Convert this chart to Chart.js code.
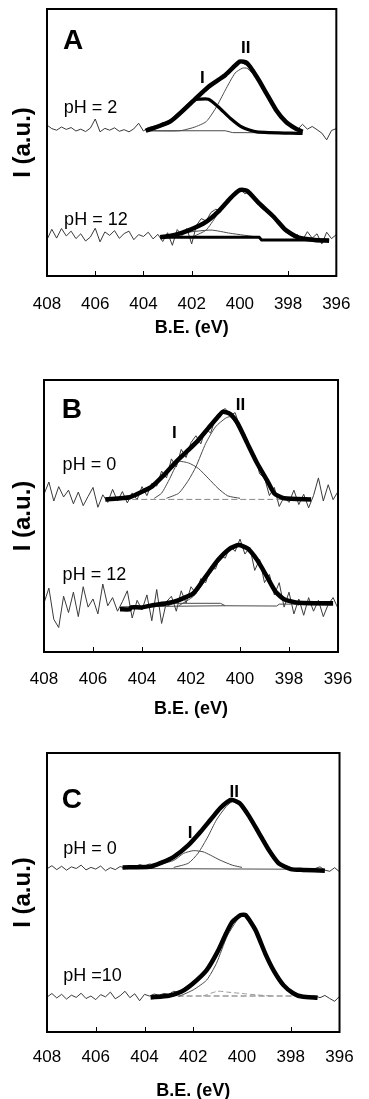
<!DOCTYPE html>
<html>
<head>
<meta charset="utf-8">
<script src="https://cdn.jsdelivr.net/npm/chart.js@4.4.0/dist/chart.umd.min.js"></script>
<style>
  html, body { margin: 0; padding: 0; background: #fff; overflow: hidden; }
  .panel { position: absolute; left: 0; width: 369px; }
  canvas { display: block; }
</style>
</head>
<body>
<div class="panel" style="top:0"><canvas id="chartA" width="369" height="360"></canvas></div>
<div class="panel" style="top:360px"><canvas id="chartB" width="369" height="370"></canvas></div>
<div class="panel" style="top:730px"><canvas id="chartC" width="369" height="380"></canvas></div>
<script>
// N 1s spectra, binding energy axis (eV), intensity in arbitrary units (0-100 per panel)
const BE_GRID = [408.0, 407.8, 407.6, 407.4, 407.2, 407.0, 406.8, 406.6, 406.4, 406.2,
  406.0, 405.8, 405.6, 405.4, 405.2, 405.0, 404.8, 404.6, 404.4, 404.2,
  404.0, 403.8, 403.6, 403.4, 403.2, 403.0, 402.8, 402.6, 402.4, 402.2,
  402.0, 401.8, 401.6, 401.4, 401.2, 401.0, 400.8, 400.6, 400.4, 400.2,
  400.0, 399.8, 399.6, 399.4, 399.2, 399.0, 398.8, 398.6, 398.4, 398.2,
  398.0, 397.8, 397.6, 397.4, 397.2, 397.0, 396.8, 396.6, 396.4, 396.2, 396.0];

// ---- Panel A ----
const A_PH2_RAW = [56.5, 55.2, 54.6, 55.8, 54.9, 55.6, 54.3, 55.0, 54.1, 55.4,
  58.8, 54.0, 55.3, 54.6, 55.5, 54.2, 54.8, 54.0, 55.1, 57.2,
  54.3, 55.6, 56.0, 56.2, 57.5, 57.0, 58.8, 59.5, 62.0, 62.8,
  65.5, 66.0, 68.5, 69.2, 71.0, 72.6, 73.5, 75.0, 77.2, 78.0,
  80.5, 79.3, 78.4, 75.0, 73.6, 70.5, 67.2, 64.0, 61.5, 59.5,
  56.5, 56.0, 55.0, 56.8, 55.0, 56.0, 54.8, 53.5, 51.0, 54.5, 55.2];
const A_PH2_FIT = [[403.9, 54.4], [402.9, 57.8], [401.9, 65.9], [401.3, 70.9], [400.6, 75.3], [400.0, 80.3],
  [399.7, 79.7], [399.3, 74.6], [398.9, 68.4], [398.5, 62.2], [398.1, 57.8], [397.7, 55.3], [397.4, 54.0]];
const A_PH2_PEAK1 = [[403.9, 54.4], [402.9, 57.8], [401.9, 65.9], [401.7, 66.2], [401.3, 66.2], [400.9, 63.4],
  [400.4, 59.1], [399.9, 55.7], [399.3, 54.0], [397.4, 53.4]];
const A_PH2_PEAK2 = [[403.9, 54.4], [402.5, 54.4], [401.9, 55.7], [401.4, 57.8], [401.0, 62.9], [400.6, 69.7],
  [400.2, 76.0], [399.9, 77.8], [399.7, 77.8], [399.3, 74.0], [398.9, 67.8], [398.5, 61.8], [398.1, 57.5],
  [397.7, 55.0], [397.4, 54.0]];
const A_PH2_BASE = [[403.9, 54.4], [400.6, 54.4], [400.3, 53.7], [397.4, 53.6]];

const A_PH12_RAW = [13.6, 17.5, 14.2, 17.8, 15.0, 16.8, 14.0, 15.8, 13.1, 14.6,
  17.9, 12.8, 16.5, 15.2, 17.0, 14.1, 15.9, 16.8, 13.6, 15.5,
  14.8, 16.4, 13.9, 15.6, 12.9, 16.2, 11.5, 17.4, 15.2, 17.8,
  12.0, 19.0, 21.5, 20.6, 23.8, 25.0, 24.5, 27.5, 28.6, 30.5,
  33.0, 30.8, 31.5, 28.5, 28.0, 24.6, 24.0, 21.8, 20.6, 17.5,
  16.2, 14.8, 15.5, 13.5, 16.6, 14.2, 15.8, 12.0, 16.4, 14.0, 15.5];
const A_PH12_FIT = [[403.3, 14.5], [402.7, 15.4], [402.1, 17.2], [401.4, 20.3], [400.9, 24.1], [400.4, 29.1],
  [400.0, 32.2], [399.7, 31.9], [399.2, 27.2], [398.6, 22.2], [398.1, 17.2], [397.6, 14.5], [396.9, 13.5], [396.3, 13.2]];
const A_PH12_PEAK1 = [[403.3, 14.5], [402.5, 16.0], [401.2, 17.2], [400.4, 16.0], [399.2, 14.5]];
const A_PH12_PEAK2 = [[401.9, 14.9], [401.4, 17.2], [401.0, 22.2], [400.6, 27.8], [400.0, 31.5], [399.7, 31.5],
  [399.2, 26.8], [398.6, 21.5], [398.1, 16.5], [397.6, 14.0], [396.9, 13.5]];
const A_PH12_BASE = [[403.3, 14.5], [399.2, 14.5], [399.1, 13.5], [396.3, 13.5]];

// ---- Panel B ----
const B_PH0_RAW = [58.0, 62.5, 55.5, 60.8, 57.0, 59.5, 54.5, 58.8, 53.8, 57.2,
  60.5, 53.2, 57.8, 55.0, 59.8, 55.5, 59.0, 54.8, 58.5, 56.0,
  60.8, 57.5, 62.0, 61.0, 66.5, 64.0, 71.0, 68.0, 74.5, 71.5,
  77.0, 79.5, 76.5, 82.0, 80.5, 86.0, 88.5, 89.5, 87.0, 88.0,
  82.5, 80.0, 74.0, 72.5, 65.5, 64.0, 57.5, 60.5, 53.5, 57.0,
  55.0, 59.5, 54.2, 58.0, 53.0, 57.5, 64.0, 55.5, 61.5, 56.0, 59.0];
const B_PH0_FIT = [[405.5, 56.1], [404.5, 56.9], [404.0, 58.9], [403.6, 60.8], [403.1, 65.1], [402.6, 70.0],
  [402.1, 74.3], [401.7, 77.9], [401.3, 82.2], [400.9, 86.5], [400.7, 88.3], [400.4, 87.5], [400.1, 84.1],
  [399.7, 76.7], [399.3, 69.4], [398.9, 63.2], [398.6, 58.3], [398.2, 56.5], [397.1, 56.1]];
const B_PH0_PEAK1 = [[403.5, 56.5], [403.2, 58.4], [402.9, 63.2], [402.5, 69.9], [402.1, 69.5], [401.7, 67.5],
  [401.3, 63.9], [400.9, 60.2], [400.5, 57.4], [400.0, 56.5]];
const B_PH0_PEAK2 = [[403.0, 56.5], [402.5, 58.4], [402.1, 63.2], [401.8, 68.1], [401.4, 76.7], [401.0, 82.8],
  [400.6, 85.9], [400.4, 86.5], [400.1, 83.0], [399.7, 75.8], [399.3, 68.6], [398.9, 62.6], [398.6, 58.0],
  [398.2, 56.4], [397.8, 56.1]];
const B_PH0_BASE = [[405.5, 56.1], [397.1, 56.1]];

const B_PH12_RAW = [18.0, 23.5, 12.0, 9.0, 20.5, 14.5, 22.0, 13.0, 24.0, 16.5,
  19.5, 14.0, 25.0, 17.0, 20.0, 15.0, 18.5, 22.5, 12.5, 19.0,
  15.5, 21.0, 11.5, 23.0, 10.5, 18.5, 20.5, 15.0, 22.5, 18.0,
  24.0, 21.5, 27.0, 25.5, 31.0, 30.5, 35.5, 34.5, 39.0, 37.0,
  41.5, 36.0, 38.5, 30.0, 34.0, 25.5, 28.5, 21.0, 25.5, 16.5,
  22.0, 14.0, 19.5, 13.5, 20.0, 15.0, 19.0, 13.0, 17.5, 20.0, 16.0];
const B_PH12_FIT = [[404.9, 15.7], [404.5, 15.7], [404.45, 16.4], [404.0, 16.4], [403.5, 17.3], [403.0, 17.9],
  [402.5, 19.1], [401.9, 21.6], [401.4, 27.7], [400.9, 33.8], [400.4, 38.1], [400.05, 39.3], [399.7, 38.1],
  [399.3, 33.8], [398.9, 27.7], [398.55, 22.2], [398.2, 19.4], [397.6, 18.1], [396.2, 17.9]];
const B_PH12_PEAK1 = [[403.0, 16.8], [402.7, 17.9], [400.8, 17.9], [400.6, 17.0]];
const B_PH12_PEAK2 = [[402.5, 17.0], [401.9, 20.5], [401.4, 26.5], [400.9, 32.8], [400.4, 37.5], [400.05, 38.8],
  [399.7, 37.6], [399.3, 33.2], [398.9, 27.0], [398.55, 21.5], [398.2, 18.8], [397.6, 17.2]];
const B_PH12_BASE = [[404.9, 16.6], [403.0, 16.8], [400.6, 17.0], [398.5, 16.9], [398.4, 17.6], [397.9, 17.6], [396.2, 17.2]];

// ---- Panel C ----
const C_PH0_RAW = [58.5, 59.6, 58.2, 59.4, 58.0, 59.2, 58.6, 59.8, 58.1, 59.0,
  58.4, 59.5, 57.8, 58.9, 58.2, 59.3, 58.8, 59.6, 59.2, 60.0,
  59.5, 60.2, 60.0, 61.0, 61.2, 62.5, 63.0, 64.5, 65.2, 67.5,
  68.5, 70.5, 72.8, 74.5, 76.8, 79.0, 81.0, 82.3, 83.5, 82.8,
  81.5, 78.5, 75.8, 72.5, 69.0, 66.0, 63.2, 61.0, 59.5, 58.8,
  58.2, 58.6, 57.8, 58.4, 58.0, 58.6, 59.2, 58.0, 57.6, 58.9, 57.4];
const C_PH0_FIT = [[404.9, 59.0], [403.8, 59.2], [403.3, 60.7], [402.8, 62.8], [402.2, 67.0], [401.7, 71.8],
  [401.3, 76.0], [400.9, 80.2], [400.6, 82.5], [400.4, 83.2], [400.1, 82.0], [399.7, 77.2], [399.3, 71.2],
  [398.9, 65.2], [398.5, 60.5], [398.0, 58.4], [397.5, 58.1], [396.6, 57.8]];
const C_PH0_PEAK1 = [[403.8, 59.0], [402.8, 61.5], [402.4, 64.0], [402.0, 65.0], [401.6, 64.6], [401.3, 63.4],
  [400.9, 61.6], [400.4, 59.8], [400.0, 59.0]];
const C_PH0_PEAK2 = [[402.8, 59.0], [402.2, 60.5], [401.8, 64.1], [401.4, 70.0], [401.05, 76.0], [400.65, 80.8],
  [400.4, 82.5], [400.1, 81.3], [399.7, 76.5], [399.3, 70.5], [398.9, 64.6], [398.5, 60.2], [398.0, 58.4], [397.5, 58.0]];
const C_PH0_BASE = [[404.9, 58.6], [396.6, 58.3]];

const C_PH10_RAW = [12.5, 13.8, 12.2, 13.5, 11.8, 13.2, 12.4, 13.9, 12.0, 12.9,
  11.6, 13.4, 12.6, 14.3, 11.9, 13.0, 14.6, 12.3, 13.7, 11.2,
  13.5, 12.9, 13.6, 13.2, 13.8, 13.5, 14.6, 14.2, 15.6, 16.8,
  17.9, 19.5, 21.2, 23.5, 26.0, 29.0, 32.0, 35.2, 38.5, 40.8,
  42.2, 41.5, 38.8, 35.5, 31.5, 27.2, 23.5, 20.2, 17.6, 15.5,
  14.0, 13.2, 12.8, 13.0, 12.5, 12.9, 12.3, 13.1, 12.0, 11.0, 12.8];
const C_PH10_FIT = [[403.75, 12.4], [403.0, 13.0], [402.5, 14.4], [402.0, 17.5], [401.45, 22.2], [401.0, 28.8],
  [400.65, 35.4], [400.4, 39.5], [400.05, 41.9], [399.85, 41.9], [399.45, 36.6], [399.05, 28.2], [398.7, 22.0],
  [398.3, 16.8], [397.9, 13.9], [397.55, 12.7], [396.9, 12.3]];
const C_PH10_PEAK1 = [[401.6, 12.9], [401.0, 14.6], [400.6, 14.3], [400.0, 13.8], [399.4, 13.3], [398.8, 12.9]];
const C_PH10_PEAK2 = [[402.6, 12.7], [402.0, 15.1], [401.45, 18.6], [401.05, 24.6], [400.6, 34.5], [400.1, 41.3],
  [399.9, 41.5], [399.45, 36.3], [399.05, 28.0], [398.7, 21.8], [398.3, 16.6], [397.9, 13.7]];
const C_PH10_BASE = [[403.75, 12.9], [396.9, 12.9]];

// x tick labels and the small inner tick marks seen on each frame
const X_TICK_STEP = 2;
const A_TICK_MARKS = [406, 404, 402, 398];
const B_TICK_MARKS = [406, 404, 400, 398];
const C_TICK_MARKS = [406, 404, 402, 398];

// annotations: [text, BE, intensity]
const A_LABELS = [['A', 406.92, 84.9], ['pH = 2', 407.31, 61.0], ['pH = 12', 407.29, 19.1], ['I', 401.56, 72.3], ['II', 399.76, 83.6]];
const B_LABELS = [['B', 406.86, 85.9], ['pH = 0', 407.24, 66.9], ['pH = 12', 407.24, 26.5], ['I', 402.68, 78.6], ['II', 399.98, 89.0]];
const C_LABELS = [['C', 406.98, 80.2], ['pH = 0', 407.33, 63.8], ['pH =10', 407.33, 18.4], ['I', 402.13, 69.4], ['II', 400.32, 84.3]];

const FONT = '"Liberation Sans", Arial, sans-serif';
Chart.defaults.font.family = FONT;
Chart.defaults.color = '#000';

const toXY = pairs => pairs.map(p => ({ x: p[0], y: p[1] }));
const rawXY = vals => BE_GRID.map((be, i) => ({ x: be, y: vals[i] }));

function line(data, width, color, order, tension, dash) {
    return {
        data: data,
        borderColor: color,
        borderWidth: width,
        borderDash: dash || [],
        pointRadius: 0,
        tension: tension,
        fill: false,
        order: order
    };
}

// frame box, inward tick marks and text annotations
function panelPlugin(tickMarks, labels) {
    return {
        id: 'panelDecor',
        afterDraw(chart) {
            const { ctx, chartArea: a, scales: { x, y } } = chart;
            ctx.save();
            ctx.strokeStyle = '#000';
            ctx.lineWidth = 2;
            ctx.strokeRect(a.left, a.top, a.right - a.left, a.bottom - a.top);
            ctx.lineWidth = 1;
            tickMarks.forEach(v => {
                const px = Math.round(x.getPixelForValue(v)) + 0.5;
                ctx.beginPath();
                ctx.moveTo(px, a.bottom);
                ctx.lineTo(px, a.bottom - 5);
                ctx.stroke();
            });
            ctx.fillStyle = '#000';
            ctx.textBaseline = 'alphabetic';
            labels.forEach(([text, be, val]) => {
                if (text.startsWith('pH')) {
                    ctx.font = '18px ' + FONT;
                    ctx.textAlign = 'left';
                } else if (text.startsWith('I')) {
                    ctx.font = 'bold 17px ' + FONT;
                    ctx.textAlign = 'center';
                } else {
                    ctx.font = 'bold 28px ' + FONT;
                    ctx.textAlign = 'center';
                }
                ctx.fillText(text, x.getPixelForValue(be), y.getPixelForValue(val));
            });
            ctx.restore();
        }
    };
}

function makePanel(id, datasets, tickMarks, labels, lay) {
    return new Chart(document.getElementById(id), {
        type: 'line',
        data: { datasets: datasets },
        options: {
            responsive: false,
            animation: false,
            events: [],
            layout: { padding: { top: lay.top, right: lay.right, bottom: lay.bottom, left: 4 } },
            plugins: { legend: { display: false }, tooltip: { enabled: false } },
            scales: {
                x: {
                    type: 'linear', min: 396, max: 408, reverse: true,
                    grid: { display: false, drawTicks: false },
                    border: { display: false },
                    ticks: {
                        stepSize: X_TICK_STEP, padding: lay.tickPad, color: '#000',
                        font: { size: 17 }, maxRotation: 0, autoSkip: false,
                        callback: v => v
                    },
                    title: {
                        display: true, text: 'B.E. (eV)', color: '#000',
                        font: { size: 18, weight: 'bold' },
                        padding: { top: lay.titleTop, bottom: 0 }
                    }
                },
                y: {
                    min: 0, max: 100,
                    grid: { display: false, drawTicks: false },
                    border: { display: false },
                    ticks: { display: false },
                    title: {
                        display: true, text: 'I (a.u.)', color: '#000',
                        font: { size: 24, weight: 'bold' },
                        padding: { top: 4.6, bottom: lay.yGap }
                    }
                }
            }
        },
        plugins: [panelPlugin(tickMarks, labels)]
    });
}

const RAW_COLOR = '#3a3a3a';
const THIN_COLOR = '#4a4a4a';

makePanel('chartA', [
    line(toXY(A_PH2_FIT), 4.5, '#000', 0, 0.2),
    line(toXY(A_PH2_PEAK1), 3.2, '#000', 1, 0.2),
    line(toXY(A_PH2_PEAK2), 1, THIN_COLOR, 2, 0.2),
    line(toXY(A_PH2_BASE), 1, THIN_COLOR, 3, 0),
    line(rawXY(A_PH2_RAW), 1, RAW_COLOR, 4, 0),
    line(toXY(A_PH12_FIT), 4.5, '#000', 0, 0.2),
    line(toXY(A_PH12_BASE), 3, '#000', 1, 0),
    line(toXY(A_PH12_PEAK1), 1, THIN_COLOR, 2, 0.2),
    line(toXY(A_PH12_PEAK2), 1, THIN_COLOR, 2, 0.2),
    line(rawXY(A_PH12_RAW), 1, RAW_COLOR, 4, 0)
], A_TICK_MARKS, A_LABELS, { top: 9, right: 19, bottom: 21.2, tickPad: 18.5, titleTop: -16.2, yGap: 9.6 });

makePanel('chartB', [
    line(toXY(B_PH0_FIT), 4.5, '#000', 0, 0.2),
    line(toXY(B_PH0_PEAK1), 1, THIN_COLOR, 2, 0.2),
    line(toXY(B_PH0_PEAK2), 1, THIN_COLOR, 2, 0.2),
    line(toXY(B_PH0_BASE), 1, '#888', 3, 0, [6, 3]),
    line(rawXY(B_PH0_RAW), 1, RAW_COLOR, 4, 0),
    line(toXY(B_PH12_FIT), 4.5, '#000', 0, 0.2),
    line(toXY(B_PH12_PEAK1), 1, THIN_COLOR, 2, 0),
    line(toXY(B_PH12_PEAK2), 1, THIN_COLOR, 2, 0.2),
    line(toXY(B_PH12_BASE), 1, THIN_COLOR, 3, 0),
    line(rawXY(B_PH12_RAW), 1, RAW_COLOR, 4, 0)
], B_TICK_MARKS, B_LABELS, { top: 20, right: 17, bottom: 9.7, tickPad: 16.8, titleTop: -7.3, yGap: 6.6 });

makePanel('chartC', [
    line(toXY(C_PH0_FIT), 4.5, '#000', 0, 0.2),
    line(toXY(C_PH0_PEAK1), 1, THIN_COLOR, 2, 0.2),
    line(toXY(C_PH0_PEAK2), 1, THIN_COLOR, 2, 0.2),
    line(toXY(C_PH0_BASE), 1, THIN_COLOR, 3, 0),
    line(rawXY(C_PH0_RAW), 1, RAW_COLOR, 4, 0),
    line(toXY(C_PH10_FIT), 4.5, '#000', 0, 0.2),
    line(toXY(C_PH10_PEAK1), 1, '#999', 2, 0.2, [5, 3]),
    line(toXY(C_PH10_PEAK2), 1, THIN_COLOR, 2, 0.2),
    line(toXY(C_PH10_BASE), 1.5, '#999', 3, 0, [6, 3]),
    line(rawXY(C_PH10_RAW), 1, RAW_COLOR, 4, 0)
], C_TICK_MARKS, C_LABELS, { top: 23, right: 19, bottom: 8.2, tickPad: 15.3, titleTop: -2.8, yGap: 9.6 });
</script>
</body>
</html>
